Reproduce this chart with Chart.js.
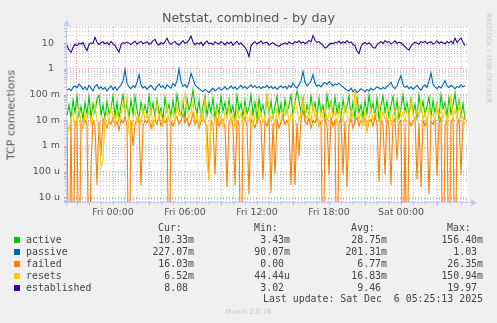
<!DOCTYPE html>
<html><head><meta charset="utf-8">
<script src="https://cdn.jsdelivr.net/npm/chart.js@4.4.0/dist/chart.umd.min.js"></script>
<style>
html,body{margin:0;padding:0;background:#f0f0f0;}
#wrap{position:relative;width:497px;height:323px;overflow:hidden;background:#f0f0f0;}
#c{position:absolute;left:0;top:0;}
.t{position:absolute;white-space:pre;font-family:'DejaVu Sans',sans-serif;}
.m{position:absolute;white-space:pre;font-family:'DejaVu Sans Mono',monospace;font-size:9.9px;line-height:12px;color:#444;}
</style></head><body>
<div id="wrap">
<canvas id="c" width="497" height="323"></canvas>
<div class="t" style="left:0;width:497px;text-align:center;top:10px;font-size:12.7px;line-height:16px;color:#555">Netstat, combined - by day</div>
<div class="t" style="left:10.5px;top:115px;transform:translate(-50%,-50%) rotate(-90deg);font-size:11px;line-height:13px;color:#555">TCP connections</div>
<div class="t" style="left:488px;top:58px;transform:translate(-50%,-50%) rotate(90deg);font-size:7px;line-height:9px;color:#c8c8c8">RRDTOOL / TOBI OETIKER</div>
<div class="t" style="left:0;width:497px;text-align:center;top:307px;font-size:7px;line-height:10px;color:#c8c8c8">Munin 2.0.76</div>
<div id="legend"></div>
</div>
<script>
// ---- data (hours relative to Fri 00:00; one sample every 10 minutes) ----
const startHour = -3.8333;
const stepHours = 1 / 6;
const axisMinHour = -3.8333;
const axisMaxHour = 29.583;

const xTickHours = [0, 6, 12, 18, 24];
const xTickLabels = ['Fri 00:00', 'Fri 06:00', 'Fri 12:00', 'Fri 18:00', 'Sat 00:00'];
const yTickValues = [1e-5, 1e-4, 1e-3, 1e-2, 1e-1, 1, 10];
const yTickLabels = ['10 u', '100 u', '1 m', '10 m', '100 m', '1  ', '10  '];

const seriesNames = ['active', 'passive', 'failed', 'resets', 'established'];

const established = [
8.2,5.5,4.4,6.8,9.1,8.0,10.2,9.4,10.8,7.2,5.2,8.9,10.5,9.8,17.0,11.2,9.0,10.4,11.5,9.6,
10.8,8.7,11.9,9.5,8.3,6.0,4.5,8.8,10.6,9.9,11.4,10.2,8.9,10.7,12.1,9.3,10.9,11.8,9.7,10.4,
11.6,9.2,10.1,12.4,14.2,9.8,8.6,10.7,9.4,11.3,15.8,10.5,9.1,10.9,11.7,9.6,8.4,10.3,12.6,9.9,
10.8,13.5,19.0,11.2,8.9,10.4,9.2,11.0,8.1,10.6,12.2,9.5,10.3,8.8,11.5,10.0,9.3,11.8,10.4,8.7,
10.9,9.6,11.4,8.5,10.2,12.0,9.1,10.5,8.3,7.0,5.0,3.02,7.8,10.1,11.6,9.4,10.8,12.3,9.7,10.5,
11.1,8.6,9.8,10.7,9.0,8.2,7.6,8.9,9.5,10.3,9.1,11.2,10.0,9.4,11.8,10.6,12.5,10.1,11.3,9.6,
10.8,12.9,11.4,19.97,13.1,10.9,11.7,9.8,8.4,6.5,7.2,8.8,10.1,9.5,11.0,10.4,12.2,9.9,11.5,10.3,
12.7,10.6,11.3,9.2,8.0,5.0,4.0,7.5,9.6,10.8,9.3,10.5,8.7,6.8,6.5,8.6,10.4,11.6,9.7,12.8,
10.9,11.7,9.5,10.6,12.4,9.9,11.1,10.2,8.8,7.4,6.2,5.5,7.9,9.8,11.2,10.1,9.4,11.9,10.6,12.1,
9.7,10.8,11.5,9.3,10.4,12.6,9.9,11.3,10.5,9.6,11.8,10.2,12.3,9.8,15.9,10.7,13.4,16.2,11.0,8.08
];

const passive = [
0.15,0.17,0.14,0.19,0.22,0.18,0.26,0.21,0.16,0.2,0.15,0.23,0.18,0.14,0.21,0.25,0.17,0.2,0.16,0.19,
0.14,0.18,0.22,0.16,0.2,0.15,0.19,0.24,0.33,0.95,0.28,0.2,0.17,0.22,0.19,0.3,0.6,0.24,0.18,0.21,
0.16,0.2,0.23,0.18,0.15,0.21,0.26,0.19,0.22,0.17,0.24,0.2,0.18,0.27,0.22,0.35,1.03,0.32,0.21,0.25,
0.19,0.3,0.67,0.42,0.24,0.2,0.17,0.15,0.13,0.16,0.14,0.12,0.15,0.18,0.14,0.16,0.19,0.15,0.17,0.2,
0.16,0.18,0.22,0.17,0.2,0.16,0.19,0.23,0.18,0.21,0.17,0.2,0.24,0.19,0.22,0.18,0.21,0.17,0.2,0.19,
0.23,0.18,0.21,0.17,0.2,0.16,0.19,0.22,0.18,0.21,0.17,0.23,0.19,0.28,0.21,0.18,0.24,0.35,0.8,0.3,
0.22,0.26,0.34,0.6,0.28,0.21,0.24,0.2,0.26,0.3,0.25,0.32,0.27,0.22,0.26,0.24,0.28,0.23,0.2,0.17,
0.15,0.14,0.18,0.13,0.16,0.12,0.14,0.17,0.15,0.13,0.16,0.14,0.18,0.15,0.17,0.2,0.18,0.16,0.19,0.17,
0.21,0.24,0.3,0.2,0.17,0.22,0.36,0.55,0.25,0.19,0.22,0.17,0.2,0.16,0.19,0.23,0.18,0.15,0.2,0.24,
0.19,0.35,0.7,0.26,0.2,0.17,0.21,0.18,0.25,0.35,0.22,0.19,0.23,0.2,0.17,0.21,0.19,0.24,0.2,0.227
];

const active = [
0.015,0.04,0.012,0.06,0.02,0.09,0.014,0.035,0.011,0.05,0.018,0.085,0.013,0.045,0.02,0.07,0.095,0.016,0.04,0.012,
0.055,0.018,0.03,0.09,0.014,0.05,0.011,0.038,0.1,0.02,0.045,0.013,0.06,0.017,0.088,0.025,0.012,0.05,0.019,0.04,
0.015,0.092,0.02,0.048,0.013,0.065,0.017,0.03,0.011,0.08,0.022,0.042,0.014,0.058,0.018,0.1,0.03,0.016,0.05,0.012,
0.07,0.025,0.045,0.156,0.04,0.018,0.06,0.013,0.035,0.09,0.015,0.05,0.02,0.075,0.012,0.04,0.017,0.085,0.022,0.05,
0.014,0.065,0.019,0.038,0.011,0.095,0.024,0.045,0.013,0.06,0.018,0.032,0.1,0.016,0.05,0.012,0.07,0.021,0.04,0.015,
0.08,0.019,0.055,0.013,0.035,0.09,0.017,0.045,0.012,0.065,0.02,0.04,0.095,0.016,0.05,0.14,0.06,0.02,0.075,0.014,
0.042,0.018,0.09,0.025,0.05,0.013,0.07,0.02,0.038,0.012,0.1,0.03,0.055,0.016,0.08,0.019,0.045,0.011,0.065,0.022,
0.035,0.09,0.015,0.05,0.012,0.075,0.02,0.04,0.013,0.06,0.018,0.1,0.025,0.045,0.014,0.07,0.011,0.038,0.09,0.02,
0.055,0.013,0.04,0.085,0.017,0.06,0.012,0.03,0.1,0.022,0.05,0.015,0.07,0.019,0.042,0.012,0.095,0.024,0.055,0.016,
0.035,0.08,0.013,0.06,0.02,0.045,0.011,0.1,0.028,0.05,0.015,0.075,0.018,0.04,0.12,0.022,0.06,0.014,0.045,0.0103
];

const resets = [
0.008,0.004,0.012,0.02,0.006,0.015,0.03,0.009,0.005,0.018,0.011,0.025,0.007,0.014,0.04,0.01,0.006,0.00015,0.0003,0.012,
0.02,0.008,0.035,0.013,0.006,0.022,0.01,0.016,0.05,0.02,0.09,0.003,0.0025,0.011,0.024,0.008,0.015,0.007,0.028,0.012,
0.018,0.009,0.03,0.005,0.014,0.045,0.011,0.02,0.006,0.017,0.035,0.01,0.013,0.025,0.007,0.04,0.015,0.022,0.06,0.11,
0.03,0.012,0.02,0.05,0.009,0.016,0.006,0.024,0.011,0.08,0.00025,0.0000444,0.013,0.018,0.008,0.028,0.01,0.015,0.006,0.021,
0.012,0.035,0.008,0.017,0.005,0.026,0.011,0.019,0.007,0.03,0.013,0.009,0.024,0.006,0.016,0.045,0.01,0.02,0.008,0.014,
0.1,0.025,0.011,0.018,0.006,0.03,0.013,0.009,0.022,0.015,0.04,0.007,0.019,0.012,0.055,0.028,0.01,0.017,0.065,0.02,
0.011,0.03,0.008,0.045,0.014,0.02,0.006,0.024,0.012,0.035,0.009,0.018,0.05,0.013,0.022,0.007,0.028,0.015,0.01,0.04,
0.017,0.008,0.025,0.012,0.15094,0.03,0.011,0.019,0.006,0.024,0.004,0.013,0.03,0.009,0.02,0.014,0.045,0.008,0.022,0.011,
0.018,0.035,0.007,0.016,0.026,0.01,0.04,0.013,0.021,0.008,0.03,0.012,0.06,0.017,0.009,0.025,0.014,0.05,0.011,0.02,
0.007,0.032,0.013,0.018,0.009,0.04,0.015,0.024,0.011,0.03,0.006,0.02,0.085,0.014,0.026,0.01,0.045,0.017,0.012,0.00652
];

const failed = [
0.008,0,0.01,0,0.006,0.012,0,0.009,0.005,0.011,0.007,0,0.00015,0.01,0.006,0.00003,0.009,0.0004,0.012,0.008,
0.005,0.01,0.007,0.013,0.006,0.009,0.004,0.011,0.008,0.014,0.006,0,0.01,0.001,0.007,0.012,0.009,0.00003,0.006,0.01,
0.008,0.013,0.005,0.009,0.011,0.007,0.015,0.006,0.01,0.008,0.012,0,0.009,0.006,0.011,0.014,0.007,0.01,0.018,0.008,
0.012,0.006,0.009,0.02,0.007,0.011,0.005,0.009,0.013,0.008,0.006,0.00005,0.01,0.007,0.00008,0.012,0.006,0.009,0.011,0.005,
0.000025,0.008,0.012,0.006,0.00003,0.01,0.007,0,0.009,0.013,0.006,0.000013,0.011,0.008,0.005,0.01,0.014,0.007,0.00005,0.009,
0.006,0.012,0.000015,0.008,0.00008,0.011,0.005,0.009,0.013,0.007,0.01,0.006,0.00003,0.012,0.00003,0.008,0.0004,0.011,0.026,0.009,
0.007,0.012,0.005,0.01,0.008,0.014,0.006,0.009,0,0.011,0.007,0.00008,0.013,0.006,0.01,0,0.008,0.012,0.00008,0.009,
0.000025,0.007,0.011,0.005,0.009,0.013,0.006,0.01,0.008,0.012,0.004,0.009,0.011,0.006,0.014,0.008,0.00004,0.01,0.007,0.00008,
0.011,0.006,0.00003,0.009,0.012,0.0003,0.008,0.01,0,0.007,0,0.011,0.006,0.009,0.013,0.00005,0.008,0.000025,0.01,0.006,
0.012,0.000013,0.009,0.007,0.011,0.00007,0.008,0.013,0,0.006,0.01,0,0.009,0.012,0,0.007,0.011,0.00008,0.009,0.01603
];

const legendCur = ['10.33m', '227.07m', '16.03m', '6.52m', '8.08'];
const legendMin = ['3.43m', '90.07m', '0.00', '44.44u', '3.02'];
const legendAvg = ['28.75m', '201.31m', '6.77m', '16.83m', '9.46'];
const legendMax = ['156.40m', '1.03', '26.35m', '150.94m', '19.97'];
const lastUpdate = 'Last update: Sat Dec  6 05:25:13 2025';

// ---- styles ----
const seriesColors = ['#00cc00', '#0066b3', '#ff8000', '#ffcc00', '#330099'];
const RED = 'rgba(255,0,0,0.38)';
const GRAY = 'rgba(120,120,120,0.38)';
const AXIS = '#c4cbea';

// ---- legend (HTML text) ----
const leg = document.getElementById('legend');
function put(txt, opts) {
  const d = document.createElement('div');
  d.className = 'm';
  d.textContent = txt;
  Object.assign(d.style, opts);
  leg.appendChild(d);
  return d;
}
const headCenter = 228.3;
[['Cur:', 158], ['Min:', 254], ['Avg:', 351], ['Max:', 447]].forEach(([t, l]) => put(t, {left: l + 'px', top: (headCenter - 6) + 'px'}));
const fmt = v => v + (/[0-9]$/.test(v) ? ' ' : '');
const valueRights = [194, 290, 387, 483];
const cols = [legendCur, legendMin, legendAvg, legendMax];
seriesNames.forEach((name, k) => {
  const cy = 240 + 11.95 * k;
  const sq = document.createElement('div');
  Object.assign(sq.style, {position: 'absolute', left: '14px', top: (cy - 3) + 'px', width: '6px', height: '6px', background: seriesColors[k]});
  leg.appendChild(sq);
  put(name, {left: '26px', top: (cy - 6) + 'px'});
  cols.forEach((col, j) => put(fmt(col[k]), {right: (497 - valueRights[j]) + 'px', top: (cy - 6) + 'px'}));
});
put(lastUpdate, {right: (497 - 483) + 'px', top: (299.3 - 6) + 'px'});

// ---- chart ----
const toPoints = arr => arr.map((v, i) => ({x: startHour + i * stepHours, y: v > 0 ? v : 1e-9})); // log axis cannot show 0: send it below the floor
const yGrid = [];
for (let e = -6; e <= 1; e++) for (let m = 1; m <= 9; m++) yGrid.push(m * Math.pow(10, e));
const Y_MIN = 6.56e-6, Y_MAX = 43.2;
const isDecade = v => Math.abs(Math.log10(v) - Math.round(Math.log10(v))) < 1e-6;
const yLabel = v => {
  for (let k = 0; k < yTickValues.length; k++) if (Math.abs(Math.log10(v) - Math.log10(yTickValues[k])) < 1e-6) return yTickLabels[k];
  return '';
};
const xLabel = v => {
  const k = xTickHours.indexOf(Math.round(v));
  return (k >= 0 && Math.abs(v - Math.round(v)) < 1e-6) ? xTickLabels[k] : '';
};
const xGrid = [];
for (let h = Math.ceil(axisMinHour); h <= Math.floor(axisMaxHour); h++) xGrid.push(h);

const deco = {
  id: 'deco',
  beforeDraw(chart) {
    const {ctx, chartArea: a} = chart;
    ctx.save();
    ctx.fillStyle = '#f0f0f0';
    ctx.fillRect(0, 0, chart.width, chart.height);
    ctx.fillStyle = '#ffffff';
    ctx.fillRect(a.left, a.top, a.right - a.left, a.bottom - a.top);
    ctx.restore();
  },
  afterDraw(chart) {
    const {ctx, chartArea: a, scales} = chart;
    ctx.save();
    ctx.lineWidth = 1;
    // tick marks
    scales.x.ticks.forEach(t => {
      const px = Math.round(scales.x.getPixelForValue(t.value)) + 0.5;
      ctx.strokeStyle = (((t.value % 3) + 3) % 3 === 0) ? RED : GRAY;
      ctx.beginPath(); ctx.moveTo(px, a.bottom); ctx.lineTo(px, a.bottom + 3); ctx.stroke();
    });
    scales.y.ticks.forEach(t => {
      const py = Math.round(scales.y.getPixelForValue(t.value)) + 0.5;
      ctx.strokeStyle = isDecade(t.value) ? RED : GRAY;
      ctx.beginPath(); ctx.moveTo(a.left - 3, py); ctx.lineTo(a.left, py); ctx.stroke();
    });
    // axes with arrows
    ctx.strokeStyle = AXIS; ctx.fillStyle = AXIS;
    const yb = Math.round(a.bottom) + 0.5, xl = Math.round(a.left) - 0.5;
    ctx.beginPath(); ctx.moveTo(a.left - 4, yb); ctx.lineTo(a.right + 4, yb); ctx.stroke();
    ctx.beginPath(); ctx.moveTo(a.right + 3, yb - 3.5); ctx.lineTo(a.right + 9, yb); ctx.lineTo(a.right + 3, yb + 3.5); ctx.closePath(); ctx.fill();
    ctx.beginPath(); ctx.moveTo(xl, a.bottom + 4); ctx.lineTo(xl, a.top - 2); ctx.stroke();
    ctx.beginPath(); ctx.moveTo(xl - 3.5, a.top - 1); ctx.lineTo(xl, a.top - 7); ctx.lineTo(xl + 3.5, a.top - 1); ctx.closePath(); ctx.fill();
    ctx.restore();
  }
};

const seriesData = [active, passive, failed, resets, established];
new Chart(document.getElementById('c'), {
  type: 'line',
  data: {
    datasets: seriesData.map((arr, k) => ({
      label: seriesNames[k],
      data: toPoints(arr),
      borderColor: seriesColors[k],
      backgroundColor: seriesColors[k],
      borderWidth: 1.1,
      pointRadius: 0,
      tension: 0,
      fill: false,
      order: 4 - k
    }))
  },
  options: {
    responsive: false,
    animation: false,
    events: [],
    layout: {padding: {top: 27, right: 29, left: 0, bottom: 0}},
    plugins: {legend: {display: false}, tooltip: {enabled: false}, title: {display: false}},
    scales: {
      x: {
        type: 'linear', min: axisMinHour, max: axisMaxHour,
        afterBuildTicks: s => { s.ticks = xGrid.map(v => ({value: v})); },
        afterFit: s => { s.height = 121; },
        grid: {drawTicks: false, lineWidth: 1, color: c => (c.tick && (((c.tick.value % 3) + 3) % 3 === 0)) ? RED : GRAY},
        border: {display: false, dash: [1, 2]},
        ticks: {autoSkip: false, maxRotation: 0, minRotation: 0, padding: 5, color: '#555', font: {family: 'DejaVu Sans', size: 9.5}, callback: v => xLabel(v)}
      },
      y: {
        type: 'logarithmic', min: Y_MIN, max: Y_MAX,
        afterBuildTicks: s => { s.ticks = yGrid.filter(v => v >= Y_MIN && v <= Y_MAX).map(v => ({value: v})); },
        afterFit: s => { s.width = 67; },
        grid: {drawTicks: false, lineWidth: 1, color: c => (c.tick && isDecade(c.tick.value)) ? RED : GRAY},
        border: {display: false, dash: [1, 2]},
        ticks: {autoSkip: false, padding: 7, color: '#555', font: {family: 'DejaVu Sans', size: 9.5}, callback: v => yLabel(v)}
      }
    }
  },
  plugins: [deco]
});
</script>
</body></html>
